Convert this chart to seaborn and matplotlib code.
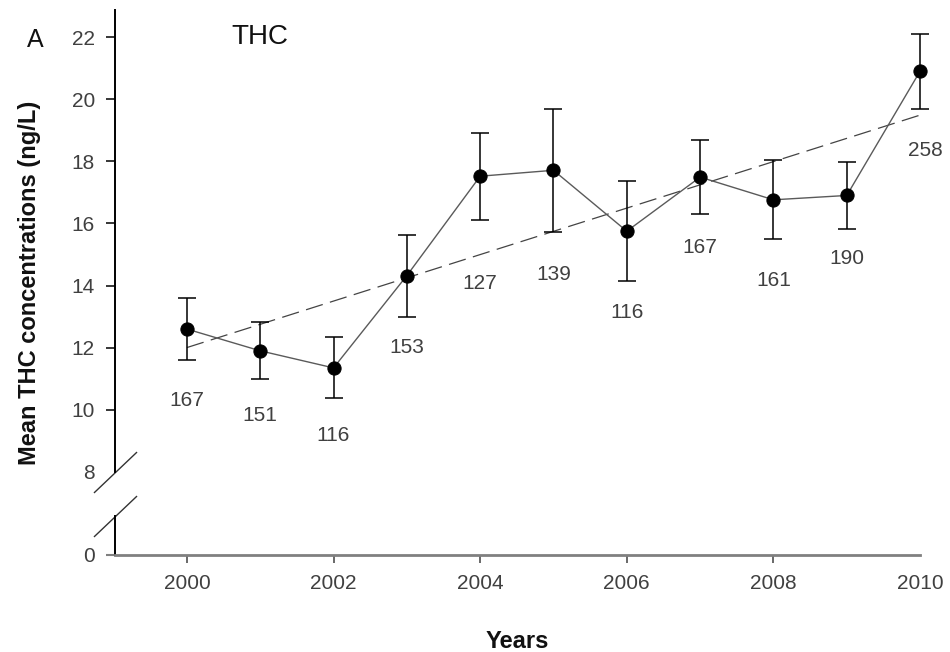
import numpy as np
import pandas as pd
import matplotlib
matplotlib.use('Agg')
import matplotlib.pyplot as plt
import seaborn as sns

years = [2000, 2001, 2002, 2003, 2004, 2005, 2006, 2007, 2008, 2009, 2010]
thc_mean = [12.60, 11.90, 11.35, 14.32, 17.52, 17.71, 15.75, 17.49, 16.76, 16.90, 20.90]
thc_sem = [1.00, 0.92, 0.98, 1.32, 1.40, 1.98, 1.60, 1.19, 1.27, 1.08, 1.21]
n_samples = [167, 151, 116, 153, 127, 139, 116, 167, 161, 190, 258]
# where the sample counts sit (y, data units)
n_label_y = [10.29, 9.81, 9.16, 12.0, 14.06, 14.35, 13.13, 15.23, 14.16, 14.87, 18.35]

df = pd.DataFrame({'year': years, 'thc': thc_mean, 'err': thc_sem, 'n': n_samples})

sns.set_style('white')
plt.rcParams['font.family'] = ['Liberation Sans', 'DejaVu Sans']

fig = plt.figure(figsize=(9.5, 6.52), dpi=100)
ax = fig.add_axes([0.1211, 0.2761, 0.8474, 0.7086])
ax0 = fig.add_axes([0.1211, 0.1488, 0.8474, 0.0598], sharex=ax)

txt = '#404040'

############################################################################################
# upper part (8 - 22)
sns.regplot(data=df, x='year', y='thc', ax=ax, scatter=False, ci=None, truncate=True,
            line_kws={'color': '#444444', 'lw': 0.9, 'linestyle': (0, (14, 6))})
ax.errorbar(df['year'], df['thc'], yerr=df['err'], fmt='none', ecolor='black', elinewidth=1.1,
            capsize=6.5, capthick=1.1, zorder=2, clip_on=False)
sns.lineplot(data=df, x='year', y='thc', ax=ax, color='#5a5a5a', lw=1.0, marker='o',
             markersize=9.5, markerfacecolor='black', markeredgecolor='black', zorder=3,
             clip_on=False)
for yr, n, ly in zip(years, n_samples, n_label_y):
    dx = 4 if yr == 2010 else 0
    ax.annotate(str(n), (yr, ly), xytext=(dx, 0), textcoords='offset points',
                ha='center', va='center', fontsize=15, color=txt, annotation_clip=False)

ax.set_xlim(1999.02, 2010)
ax.set_ylim(8, 22.87)
ax.set_yticks(range(8, 23, 2))
ax.set_xlabel('')
ax.set_ylabel('')
for s in ['top', 'right', 'bottom']:
    ax.spines[s].set_visible(False)
ax.spines['left'].set_color('black')
ax.spines['left'].set_linewidth(1.4)
ax.tick_params(axis='y', direction='out', length=6.5, width=1.1, color='black',
               labelsize=15, labelcolor=txt, pad=8, left=True)
ax.tick_params(axis='x', bottom=False, labelbottom=False)
ax.yaxis.get_major_ticks()[0].tick1line.set_visible(False)

############################################################################################
# lower part (0)
ax0.set_ylim(0, 1)
ax0.set_yticks([0])
for s in ['top', 'right']:
    ax0.spines[s].set_visible(False)
ax0.spines['left'].set_color('black')
ax0.spines['left'].set_linewidth(1.4)
ax0.spines['bottom'].set_color('#808080')
ax0.spines['bottom'].set_linewidth(2.0)
ax0.set_xticks(range(2000, 2011, 2))
ax0.tick_params(axis='y', direction='out', length=6.5, width=1.5, color='#808080',
                labelsize=15, labelcolor=txt, pad=8, left=True)
ax0.tick_params(axis='x', direction='out', length=6, width=1.1, color='#404040',
                labelsize=15, labelcolor=txt, pad=8, bottom=True)
ax0.xaxis.get_major_ticks()[-1].tick1line.set_visible(False)

# break marks
brk = dict(marker=[(-1, -0.95), (1, 0.95)], markersize=31, linestyle='none',
           color='#333333', mec='#333333', mew=1.0, clip_on=False)
ax.plot([0], [0], transform=ax.transAxes, **brk)
ax0.plot([0], [1], transform=ax0.transAxes, **brk)

############################################################################################
fig.text(30 / 950, 1 - 283 / 652, 'Mean THC concentrations (ng/L)', rotation=90,
         ha='center', va='center', fontsize=17, fontweight='bold', color='#111111')
fig.text(517 / 950, 1 - 642 / 652, 'Years', ha='center', va='center', fontsize=17,
         fontweight='bold', color='#111111')
fig.text(35 / 950, 1 - 40 / 652, 'A', ha='center', va='center', fontsize=18, color='#111111')
ax.text(2001.0, 22.0, 'THC', ha='center', va='center', fontsize=20, color='#111111')

fig.savefig('out.png', dpi=100)
